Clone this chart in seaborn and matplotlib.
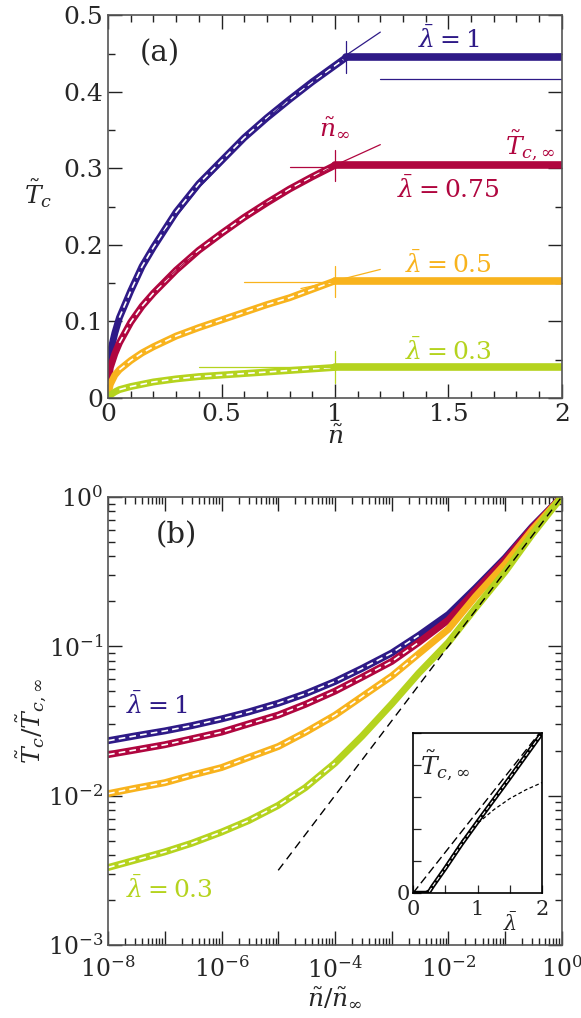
import numpy as np
import pandas as pd
import matplotlib
matplotlib.use("Agg")
import matplotlib.pyplot as plt
import matplotlib.ticker as mticker
import seaborn as sns

# ---------------- data ----------------
lam_labels = ["1", "0.75", "0.5", "0.3"]
colors = ["#2e1a87", "#b0063f", "#f8b31d", "#b5d31e"]

# panel (a): T_c versus n, up to n_inf
n_a = [0.0, 0.01, 0.03, 0.05, 0.1, 0.15, 0.2, 0.3, 0.4, 0.5, 0.6, 0.7, 0.8, 0.9, 1.0]
T_a_1 = [0.04, 0.06, 0.085, 0.105, 0.14, 0.172, 0.197, 0.243, 0.28, 0.31, 0.34, 0.366, 0.39, 0.413, 0.438]
T_a_075 = [0.02, 0.04, 0.058, 0.072, 0.099, 0.12, 0.137, 0.167, 0.193, 0.215, 0.236, 0.255, 0.273, 0.289, 0.304]
T_a_05 = [0.005, 0.018, 0.03, 0.037, 0.049, 0.059, 0.067, 0.081, 0.092, 0.102, 0.112, 0.122, 0.131, 0.142, 0.152]
T_a_03 = [0.0, 0.004, 0.008, 0.011, 0.015, 0.018, 0.021, 0.025, 0.028, 0.030, 0.032, 0.034, 0.036, 0.038, 0.040]
n_inf = [1.05, 1.0, 1.0, 1.0]
T_inf = [0.445, 0.304, 0.153, 0.040]

# thin fit lines in (a)
fit_n_1 = [0.25, 0.4, 0.6, 0.8, 1.05, 1.2]
fit_T_1 = [0.218, 0.275, 0.336, 0.392, 0.448, 0.478]
fit_n_075 = [0.2, 0.35, 0.5, 0.7, 1.0, 1.2]
fit_T_075 = [0.14, 0.18, 0.212, 0.254, 0.304, 0.331]
fit_n_05 = [0.85, 1.0, 1.2]
fit_T_05 = [0.143, 0.153, 0.168]
hline_start = [1.2, 0.8, 0.6, 0.4]
hline_T = [0.417, 0.302, 0.152, 0.040]
vtick_lo = [0.425, 0.283, 0.132, 0.0195]
vtick_hi = [0.466, 0.324, 0.173, 0.061]

# panel (b): T_c/T_c,inf versus n/n_inf
n_b = [1e-8, 3e-8, 1e-7, 3e-7, 1e-6, 3e-6, 1e-5, 3e-5, 1e-4, 3e-4,
       1e-3, 3e-3, 1e-2, 3e-2, 1e-1, 3e-1, 1.0]
R_b_1 = [0.0233, 0.0251, 0.0271, 0.0294, 0.0326, 0.0363, 0.0415, 0.048, 0.058, 0.071,
         0.09, 0.118, 0.163, 0.245, 0.39, 0.63, 1.0]
R_b_075 = [0.0188, 0.0202, 0.0219, 0.024, 0.0266, 0.0302, 0.0346, 0.0408, 0.050, 0.062,
           0.079, 0.106, 0.15, 0.235, 0.38, 0.62, 1.0]
R_b_05 = [0.0103, 0.0112, 0.0122, 0.0137, 0.0154, 0.018, 0.0213, 0.0265, 0.0345, 0.046,
          0.063, 0.089, 0.13, 0.215, 0.355, 0.6, 1.0]
R_b_03 = [0.0033, 0.0037, 0.0042, 0.0048, 0.0057, 0.0068, 0.0086, 0.0113, 0.0165, 0.025,
          0.041, 0.066, 0.106, 0.18, 0.315, 0.56, 1.0]
dash_end = [12, 12, 12, 9]
sqrt_n = [1e-5, 1.0]
sqrt_R = [10 ** -2.5, 1.0]

# inset: T_c,inf versus lambda
lam_in = [0.0, 0.2, 0.25, 0.3, 0.5, 0.75, 1.0, 1.5, 2.0]
T_in = [0.0, 0.0, 0.008, 0.04, 0.155, 0.305, 0.445, 0.72, 1.0]
lam_dash = [0.0, 2.0]
T_dash = [0.0, 1.02]
lam_dot = [0.2, 0.4, 0.6, 0.8, 1.0, 1.25, 1.5, 1.75, 2.0]
T_dot = [0.0, 0.1, 0.23, 0.35, 0.435, 0.52, 0.59, 0.645, 0.69]

T_a = [T_a_1, T_a_075, T_a_05, T_a_03]
R_b = [R_b_1, R_b_075, R_b_05, R_b_03]

# ---------------- style ----------------
sns.set_style("ticks")
plt.rcParams["font.family"] = ["DejaVu Serif"]
plt.rcParams["mathtext.fontset"] = "dejavuserif"
plt.rcParams["axes.edgecolor"] = "#555555"
plt.rcParams["axes.linewidth"] = 1.2
plt.rcParams["xtick.direction"] = "in"
plt.rcParams["ytick.direction"] = "in"

fig = plt.figure(figsize=(5.81, 10.18), dpi=100)
ax_a = fig.add_axes([0.186, 0.609, 0.781, 0.376])
ax_b = fig.add_axes([0.186, 0.0717, 0.781, 0.4403])

THICK = 5.0
WDASH = 1.2
DASH = (0, (4, 2.5))


def ticks_all(ax, size=18, major=10, minor=5):
    ax.tick_params(which="both", top=True, right=True, color="#222222", labelsize=size)
    ax.tick_params(which="major", length=major, width=1.0)
    ax.tick_params(which="minor", length=minor, width=1.0)


# ---------------- panel (a) ----------------
for i in range(4):
    c = colors[i]
    nn = list(n_a)
    nn[-1] = n_inf[i]
    tt = list(T_a[i])
    tt[-1] = T_inf[i]
    sns.lineplot(x=nn, y=tt, ax=ax_a, color=c, lw=THICK, sort=False)
    sns.lineplot(x=nn[3:], y=tt[3:], ax=ax_a, color="white", lw=WDASH,
                 dashes=False, linestyle=DASH, sort=False)
    # plateau
    sns.lineplot(x=[n_inf[i], 2.0], y=[T_inf[i], T_inf[i]], ax=ax_a, color=c, lw=THICK + 0.5)
    # thin horizontal line and vertical tick
    ax_a.plot([hline_start[i], 2.0 if i == 0 else n_inf[i]], [hline_T[i], hline_T[i]], color=c, lw=0.9)
    ax_a.plot([n_inf[i], n_inf[i]], [vtick_lo[i], vtick_hi[i]], color=c, lw=0.9)

ax_a.plot(fit_n_1, fit_T_1, color=colors[0], lw=0.9)
ax_a.plot(fit_n_075, fit_T_075, color=colors[1], lw=0.9)
ax_a.plot(fit_n_05, fit_T_05, color=colors[2], lw=0.9)

ax_a.set_xlim(0, 2)
ax_a.set_ylim(0, 0.5)
ax_a.xaxis.set_major_locator(mticker.MultipleLocator(0.5))
ax_a.xaxis.set_minor_locator(mticker.MultipleLocator(0.1))
ax_a.yaxis.set_major_locator(mticker.MultipleLocator(0.1))
ax_a.yaxis.set_minor_locator(mticker.MultipleLocator(0.05))
ax_a.xaxis.set_major_formatter(mticker.FuncFormatter(lambda v, p: f"{v:g}"))
ax_a.yaxis.set_major_formatter(mticker.FuncFormatter(lambda v, p: f"{v:g}"))
ticks_all(ax_a)
ax_a.set_xlabel(r"$\tilde{n}$", fontsize=18, labelpad=0)
ax_a.set_ylabel(r"$\tilde{T}_c$", fontsize=18, rotation=0)
ax_a.yaxis.set_label_coords(-0.155, 0.49)

ax_a.text(0.23, 0.45, "(a)", fontsize=21, ha="center", va="center")
ax_a.text(1.5, 0.468, r"$\bar{\lambda}=1$", color=colors[0], fontsize=18, ha="center", va="center")
ax_a.text(1.0, 0.352, r"$\tilde{n}_\infty$", color=colors[1], fontsize=18, ha="center", va="center")
ax_a.text(1.86, 0.33, r"$\tilde{T}_{c,\infty}$", color=colors[1], fontsize=18, ha="center", va="center")
ax_a.text(1.5, 0.273, r"$\bar{\lambda}=0.75$", color=colors[1], fontsize=18, ha="center", va="center")
ax_a.text(1.5, 0.174, r"$\bar{\lambda}=0.5$", color=colors[2], fontsize=18, ha="center", va="center")
ax_a.text(1.5, 0.061, r"$\bar{\lambda}=0.3$", color=colors[3], fontsize=18, ha="center", va="center")

# ---------------- panel (b) ----------------
for i in range(4):
    sns.lineplot(x=n_b, y=R_b[i], ax=ax_b, color=colors[i], lw=THICK)
    k = dash_end[i]
    sns.lineplot(x=n_b[:k], y=R_b[i][:k], ax=ax_b, color="white", lw=WDASH,
                 dashes=False, linestyle=DASH)
sns.lineplot(x=sqrt_n, y=sqrt_R, ax=ax_b, color="black", lw=1.0, dashes=False, linestyle=(0, (6, 4)))

ax_b.set_xscale("log")
ax_b.set_yscale("log")
ax_b.set_xlim(1e-8, 1)
ax_b.set_ylim(1e-3, 1)
ax_b.xaxis.set_major_locator(mticker.LogLocator(base=10, numticks=20))
ax_b.xaxis.set_minor_locator(mticker.LogLocator(base=10, subs=np.arange(2, 10), numticks=40))
ax_b.xaxis.set_minor_formatter(mticker.NullFormatter())
ax_b.xaxis.set_major_formatter(mticker.FuncFormatter(
    lambda v, p: (r"$10^{%d}$" % round(np.log10(v))) if round(np.log10(v)) % 2 == 0 else ""))
ax_b.yaxis.set_major_locator(mticker.LogLocator(base=10, numticks=10))
ax_b.yaxis.set_minor_locator(mticker.LogLocator(base=10, subs=np.arange(2, 10), numticks=20))
ax_b.yaxis.set_minor_formatter(mticker.NullFormatter())
ticks_all(ax_b, size=17)
ax_b.tick_params(axis="x", pad=8)
ax_b.set_xlabel(r"$\tilde{n}/\tilde{n}_\infty$", fontsize=18, labelpad=3)
ax_b.set_ylabel(r"$\tilde{T}_c/\tilde{T}_{c,\infty}$", fontsize=18, labelpad=0)

ax_b.text(0.15, 0.915, "(b)", fontsize=21, ha="center", va="center", transform=ax_b.transAxes)
ax_b.text(0.04, 0.535, r"$\bar{\lambda}=1$", color=colors[0], fontsize=18, va="center", transform=ax_b.transAxes)
ax_b.text(0.04, 0.125, r"$\bar{\lambda}=0.3$", color=colors[3], fontsize=18, va="center", transform=ax_b.transAxes)

# ---------------- inset ----------------
ax_in = fig.add_axes([0.711, 0.1228, 0.222, 0.1572])
ax_in.set_facecolor("white")
sns.lineplot(x=lam_dash, y=T_dash, ax=ax_in, color="black", lw=1.0, dashes=False, linestyle=(0, (6, 3)))
sns.lineplot(x=lam_dot, y=T_dot, ax=ax_in, color="black", lw=0.9, dashes=False, linestyle=(0, (3, 2)))
sns.lineplot(x=lam_in, y=T_in, ax=ax_in, color="black", lw=3.2)
sns.lineplot(x=lam_in[2:], y=T_in[2:], ax=ax_in, color="white", lw=0.8, dashes=False, linestyle=(0, (4, 2)))
ax_in.set_xlim(0, 2)
ax_in.set_ylim(0, 1)
ax_in.xaxis.set_major_locator(mticker.MultipleLocator(0.5))
ax_in.yaxis.set_major_locator(mticker.MultipleLocator(0.2))
ax_in.xaxis.set_major_formatter(mticker.FuncFormatter(lambda v, p: f"{v:g}" if v in (0, 1, 2) else ""))
ax_in.yaxis.set_major_formatter(mticker.FuncFormatter(lambda v, p: f"{v:g}" if v in (0, 1) else ""))
ax_in.tick_params(which="both", top=False, right=False, length=6, width=0.9, labelsize=15)
ax_in.tick_params(axis="y", pad=2)
ax_in.tick_params(axis="x", pad=5)
for s in ax_in.spines.values():
    s.set_color("black")
ax_in.text(0.1, 0.8, r"$\tilde{T}_{c,\infty}$", fontsize=18, va="center")
ax_in.text(1.5, -0.19, r"$\bar{\lambda}$", fontsize=15, ha="center", va="center")

fig.savefig("out.png", dpi=100)
